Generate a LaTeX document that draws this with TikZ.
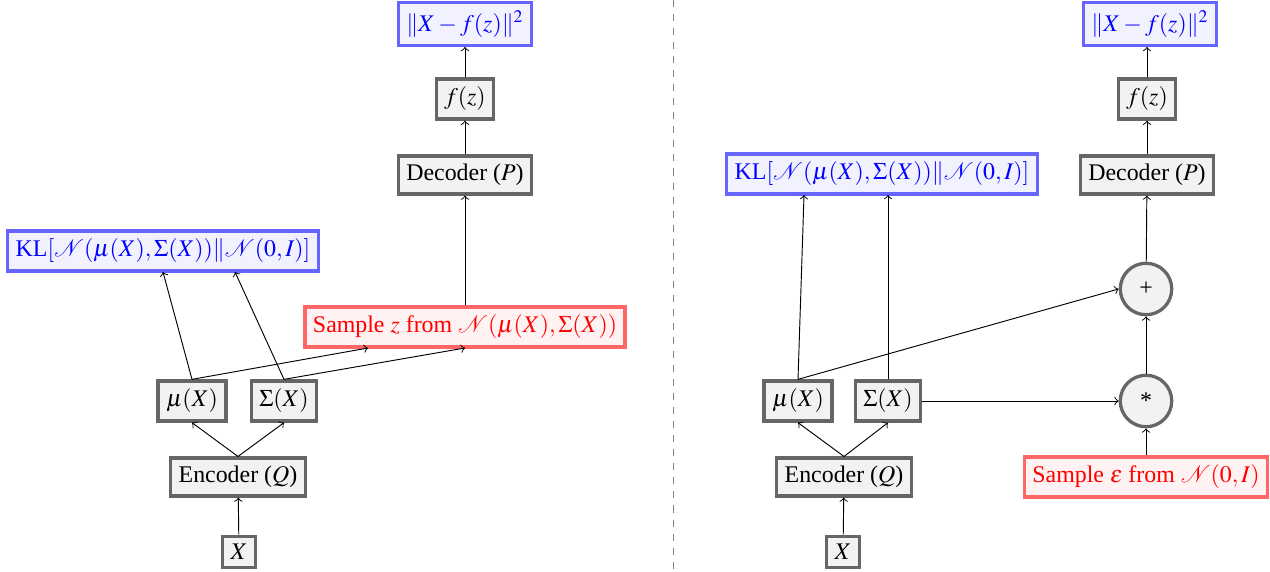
\documentclass[tikz,border=0pt]{standalone}
\usepackage{mathptmx}
\usepackage[no-math]{fontspec}
\setmainfont{Liberation Serif}
\usetikzlibrary{calc}
\begin{document}
\begin{tikzpicture}[x=0.4273pt,y=-0.4273pt,
  every node/.style={font=\fontsize{10.2pt}{12pt}\selectfont},
  box/.style={draw=black!60,fill=black!5,line width=1.4pt,inner sep=3.45pt},
  lossbox/.style={draw=blue!60,fill=blue!5,text=blue,line width=1.4pt,inner sep=3.45pt},
  sampbox/.style={draw=red!60,fill=red!5,text=red,line width=1.4pt,inner sep=3.45pt},
  opnode/.style={circle,draw=black!60,fill=black!5,line width=1.4pt,minimum size=22pt,inner sep=0pt},
  conn/.style={->,thin}]
\useasboundingbox (0,0) rectangle (1270,571);
\draw[dashed,black!50] (673,0) -- (673,571);
% left
\node[box] (lx) at (239,552) {$X$};
\node[box] (lenc) at (238,477) {Encoder ($Q$)};
\node[box] (lmu) at (192,401) {$\mu(X)$};
\node[box] (lsig) at (284,401) {$\Sigma(X)$};
\node[lossbox] (lkl) at (163,251) {KL$[\mathcal{N}(\mu(X),\Sigma(X))\|\mathcal{N}(0,I)]$};
\node[sampbox] (lsamp) at (465,327) {Sample $z$ from $\mathcal{N}(\mu(X),\Sigma(X))$};
\node[box] (ldec) at (465,175) {Decoder ($P$)};
\node[box] (lf) at (465,99) {$f(z)$};
\node[lossbox] (lloss) at (465,24) {$\|X-f(z)\|^2$};
\coordinate (lkla) at (163,272);
\coordinate (lklb) at (235,272);
\coordinate (lsa) at (368,348);
\coordinate (lsb) at (465,348);
\draw[conn] (lx) -- (lenc);
\draw[conn] (lenc.north) -- (lmu.south);
\draw[conn] (lenc.north) -- (lsig.south);
\draw[conn] (lmu.north) -- (lkla);
\draw[conn] (lsig.north) -- (lklb);
\draw[conn] (lmu.north) -- (lsa);
\draw[conn] (lsig.north) -- (lsb);
\draw[conn] (lsamp) -- (ldec);
\draw[conn] (ldec) -- (lf);
\draw[conn] (lf) -- (lloss);
% right
\node[box] (rx) at (843,552) {$X$};
\node[box] (renc) at (844,477) {Encoder ($Q$)};
\node[box] (rmu) at (798,401) {$\mu(X)$};
\node[box] (rsig) at (888,401) {$\Sigma(X)$};
\node[lossbox] (rkl) at (882,174) {KL$[\mathcal{N}(\mu(X),\Sigma(X))\|\mathcal{N}(0,I)]$};
\node[box] (rdec) at (1147,175) {Decoder ($P$)};
\node[box] (rf) at (1147,99) {$f(z)$};
\node[lossbox] (rloss) at (1150,24) {$\|X-f(z)\|^2$};
\node[opnode] (plus) at (1146,289) {+};
\node[opnode] (times) at (1146,401) {*};
\node[sampbox] (rsamp) at (1146,477) {Sample $\varepsilon$ from $\mathcal{N}(0,I)$};
\coordinate (rkla) at (804,195);
\coordinate (rklb) at (888,195);
\draw[conn] (rx) -- (renc);
\draw[conn] (renc.north) -- (rmu.south);
\draw[conn] (renc.north) -- (rsig.south);
\draw[conn] (rmu.north) -- (rkla);
\draw[conn] (rsig.north) -- (rklb);
\draw[conn] (rmu.north) -- (plus.west);
\draw[conn] (rsig.east) -- (times.west);
\draw[conn] (rsamp) -- (times);
\draw[conn] (times) -- (plus);
\draw[conn] (plus) -- (rdec);
\draw[conn] (rdec) -- (rf);
\draw[conn] (rf) -- (rf |- rloss.south);
\end{tikzpicture}
\end{document}
